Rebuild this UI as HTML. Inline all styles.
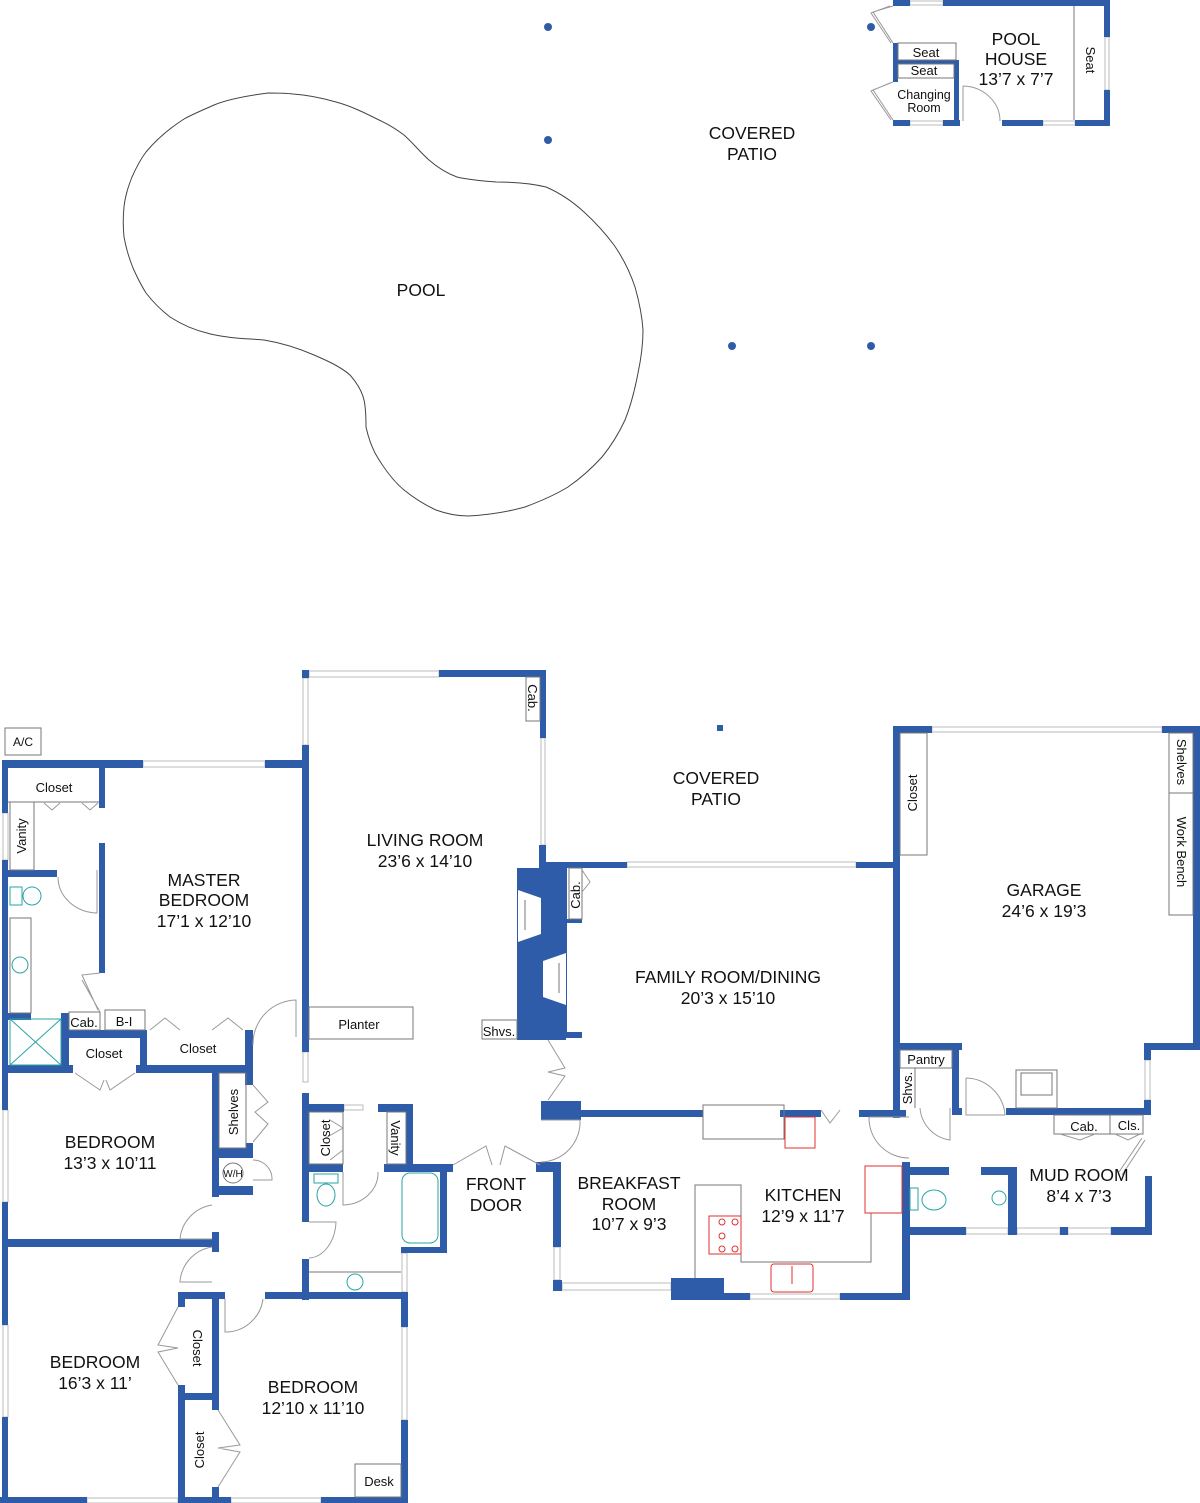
<!DOCTYPE html>
<html><head><meta charset="utf-8"><style>
html,body{margin:0;padding:0;background:#fff;}
svg{display:block;}
.w{fill:#2f5ca8;}
.ln{fill:none;stroke:#777;stroke-width:1;}
.pl{fill:none;stroke:#444;stroke-width:1;stroke-linejoin:round;}
.wn{fill:#fff;stroke:#bbb;stroke-width:1;}
.dr{fill:none;stroke:#999;stroke-width:1;}
.tl{fill:none;stroke:#2aa5a5;stroke-width:1;}
.rd{fill:none;stroke:#e03030;stroke-width:1;}
text{font-family:"Liberation Sans",sans-serif;fill:#111;text-anchor:middle;}
.big{font-size:17.5px;}
.sm{font-size:13px;}
</style></head><body>
<svg width="1200" height="1503" viewBox="0 0 1200 1503" xmlns="http://www.w3.org/2000/svg">
<g class="w"><circle cx="548" cy="27" r="4"/><circle cx="548" cy="140" r="4"/><circle cx="871" cy="27" r="4"/><circle cx="732" cy="346" r="4"/><circle cx="871" cy="346" r="4"/><rect x="717" y="725" width="6" height="6"/></g>

<path class="pl" d="M268,93 C245,96 226,100 214,105 C203,110 193,114 184,119 C170,128 156,140 146,152 C140,160 136,168 132,177 C128,187 125,197 124,207 C123,217 123,227 124,237 C126,248 129,258 133,268 C137,277 141,285 146,293 C153,302 161,310 170,317 C181,324 194,330 207,333 C217,336 227,337 236,338 C245,339 255,339 264,340 C282,343 298,348 314,355 C328,361 341,367 350,375 C357,383 362,391 364,400 C366,409 366,418 366,427 C368,436 371,445 375,453 C383,467 392,480 404,490 C414,498 425,505 436,510 C447,514 457,516 468,516 C488,515 507,512 525,507 C541,501 555,495 568,487 C581,478 592,468 602,457 C611,446 619,433 625,420 C631,405 635,389 638,373 C641,359 643,344 643,330 C642,315 639,301 635,287 C630,272 623,258 614,245 C605,233 595,222 584,212 C572,201 560,193 546,187 C530,183 513,182 496,182 C483,181 469,180 457,177 C446,173 437,167 429,160 C420,152 413,143 404,135 C396,129 388,124 379,120 C365,113 351,106 336,102 C322,98 308,95 293,94 C285,93 276,93 268,93 Z"/>
<text class="big" x="421" y="296">POOL</text>
<text class="big" x="752" y="139">COVERED</text><text class="big" x="752" y="160">PATIO</text>

<rect class="wn" x="910" y="1" width="33" height="4"/><rect class="wn" x="910" y="121" width="33" height="4"/><rect class="wn" x="1043" y="121" width="32" height="4"/><rect class="wn" x="1105" y="37" width="4" height="53"/>
<g class="w">
<rect x="893" y="0" width="17" height="6"/><rect x="943" y="0" width="167" height="6"/>
<rect x="1104" y="0" width="6" height="37"/><rect x="1104" y="90" width="6" height="36"/>
<rect x="893" y="120" width="17" height="6"/><rect x="943" y="120" width="17" height="6"/><rect x="1002" y="120" width="41" height="6"/><rect x="1075" y="120" width="35" height="6"/>
<rect x="893" y="43" width="5" height="39"/><rect x="954" y="60" width="5" height="66"/><rect x="893" y="60" width="66" height="4"/>
</g>
<rect class="ln" x="898" y="43" width="58" height="17"/><rect class="ln" x="898" y="64" width="56" height="14"/>
<line class="ln" x1="1074" y1="6" x2="1074" y2="120"/>
<path class="dr" d="M893,6 L873,12 L893,43 M890,6 L871,13 L891,43 M893,82 L873,90 L893,120 M890,83 L871,91 L891,120 M963,86 L963,121 M963,86 A38,35 0 0 1 1000,121"/>
<text class="big" x="1016" y="45">POOL</text><text class="big" x="1016" y="65">HOUSE</text><text class="big" x="1016" y="85">13’7 x 7’7</text>
<text class="sm" x="926" y="57">Seat</text><text class="sm" x="924" y="75">Seat</text>
<text style="font-size:12.5px" x="924" y="99">Changing</text><text style="font-size:12.5px" x="924" y="112">Room</text>
<text class="sm" transform="translate(1086,60) rotate(90)">Seat</text>

<rect class="ln" x="5" y="728" width="36" height="27"/><text style="font-size:12px" x="23" y="746">A/C</text>

<g>
<rect class="wn" x="309" y="671" width="130" height="6"/>
<rect class="wn" x="541" y="738" width="4" height="107"/>
<rect class="wn" x="143" y="761" width="122" height="6"/>
<rect class="wn" x="303" y="678" width="5" height="67"/>
<rect class="wn" x="3" y="813" width="5" height="47"/>
<rect class="wn" x="3" y="1110" width="5" height="92"/>
<rect class="wn" x="3" y="1325" width="5" height="92"/>
<rect class="wn" x="87" y="1498" width="91" height="5"/>
<rect class="wn" x="231" y="1498" width="90" height="5"/>
<rect class="wn" x="402" y="1327" width="5" height="93"/>
<rect class="wn" x="402" y="1253" width="5" height="39"/>
<rect class="wn" x="627" y="862" width="229" height="5"/>
<rect class="wn" x="932" y="727" width="230" height="5"/>
<rect class="wn" x="1145" y="1060" width="5" height="40"/>
<rect class="wn" x="554" y="1247" width="6" height="33"/>
<rect class="wn" x="562" y="1283" width="109" height="7"/>
<rect class="wn" x="750" y="1294" width="90" height="5"/>
<rect class="wn" x="966" y="1228" width="42" height="6"/>
<rect class="wn" x="1017" y="1228" width="43" height="6"/>
<rect class="wn" x="1068" y="1228" width="43" height="6"/>
<rect class="wn" x="344" y="1105" width="19" height="5"/>
<rect class="wn" x="303" y="1052" width="5" height="30"/>
</g>

<g class="w">
<rect x="302" y="670" width="7" height="8"/><rect x="439" y="670" width="107" height="7"/>
<rect x="540" y="670" width="6" height="68"/><rect x="539" y="845" width="7" height="23"/>
<rect x="302" y="745" width="7" height="307"/><rect x="302" y="1093" width="7" height="129"/><rect x="302" y="1259" width="7" height="41"/>
<rect x="2" y="760" width="141" height="8"/><rect x="265" y="760" width="44" height="8"/>
<rect x="2" y="760" width="6" height="53"/><rect x="2" y="860" width="6" height="250"/><rect x="2" y="1202" width="6" height="123"/><rect x="2" y="1417" width="6" height="86"/>
<rect x="99" y="768" width="6" height="40"/><rect x="99" y="843" width="6" height="130"/>
<rect x="3" y="870" width="54" height="7"/>
<rect x="3" y="1013" width="28" height="7"/>
<rect x="61" y="1013" width="8" height="60"/><rect x="61" y="1030" width="86" height="8"/><rect x="140" y="1030" width="7" height="42"/>
<rect x="3" y="1065" width="70" height="8"/><rect x="136" y="1065" width="117" height="8"/>
<rect x="245" y="1030" width="8" height="55"/>
<rect x="212" y="1065" width="7" height="132"/><rect x="246" y="1143" width="7" height="15"/>
<rect x="212" y="1148" width="41" height="10"/><rect x="212" y="1186" width="41" height="9"/>
<rect x="8" y="1239" width="210" height="8"/><rect x="212" y="1232" width="7" height="20"/>
<rect x="178" y="1292" width="47" height="7"/><rect x="178" y="1292" width="7" height="15"/><rect x="178" y="1385" width="7" height="118"/>
<rect x="178" y="1393" width="40" height="7"/><rect x="212" y="1292" width="7" height="118"/><rect x="212" y="1487" width="7" height="16"/>
<rect x="0" y="1497" width="87" height="6"/><rect x="178" y="1497" width="53" height="6"/><rect x="321" y="1497" width="87" height="6"/>
<rect x="265" y="1292" width="143" height="7"/><rect x="401" y="1292" width="7" height="35"/><rect x="401" y="1420" width="7" height="83"/>
<rect x="309" y="1104" width="35" height="8"/><rect x="378" y="1104" width="35" height="8"/><rect x="406" y="1104" width="7" height="68"/>
<rect x="309" y="1164" width="34" height="8"/><rect x="384" y="1164" width="69" height="8"/><rect x="440" y="1164" width="7" height="89"/><rect x="401" y="1247" width="46" height="6"/>
<path d="M517,868 L567,868 L567,919 L582,919 L582,923 L567,923 L567,1032 L582,1032 L582,1038 L566,1038 L566,1040 L517,1040 Z"/>
<rect x="543" y="862" width="84" height="6"/><rect x="856" y="862" width="44" height="6"/>
<rect x="541" y="1101" width="40" height="19"/><rect x="581" y="1110" width="122" height="7"/><rect x="780" y="1110" width="41" height="7"/><rect x="859" y="1110" width="47" height="7"/>
<rect x="893" y="726" width="39" height="7"/><rect x="1162" y="726" width="38" height="7"/><rect x="1193" y="726" width="7" height="324"/>
<rect x="1144" y="1043" width="56" height="7"/><rect x="1144" y="1043" width="7" height="17"/><rect x="1144" y="1100" width="7" height="15"/>
<rect x="1006" y="1108" width="145" height="7"/>
<rect x="893" y="726" width="7" height="392"/><rect x="893" y="1043" width="69" height="7"/><rect x="952" y="1043" width="7" height="72"/><rect x="952" y="1108" width="10" height="7"/>
<rect x="536" y="1162" width="25" height="10"/><rect x="553" y="1162" width="8" height="85"/><rect x="553" y="1280" width="9" height="11"/>
<rect x="671" y="1278" width="53" height="22"/><rect x="724" y="1293" width="26" height="7"/><rect x="840" y="1293" width="70" height="7"/>
<rect x="902" y="1162" width="8" height="138"/>
<rect x="902" y="1167" width="47" height="8"/><rect x="981" y="1167" width="36" height="8"/><rect x="1008" y="1167" width="9" height="68"/>
<rect x="1145" y="1176" width="7" height="59"/>
<rect x="910" y="1227" width="56" height="8"/><rect x="1008" y="1227" width="9" height="8"/><rect x="1060" y="1227" width="8" height="8"/><rect x="1111" y="1227" width="41" height="8"/>
<rect x="420" y="1165" width="33" height="7"/>
</g>
<path fill="#fff" d="M518,890 L541,898 L541,934 L518,942 Z M566,953 L543,961 L543,997 L566,1005 Z"/>
<path class="ln" d="M525,900 L525,930 M559,963 L559,993" stroke="#bbb"/>

<rect class="ln" x="10" y="802" width="24" height="68"/>
<line class="ln" x1="8" y1="802" x2="99" y2="802"/>
<rect class="ln" x="10" y="918" width="21" height="95"/>
<rect class="tl" x="10" y="1019" width="51" height="46"/><path class="tl" d="M10,1019 L61,1065 M61,1019 L10,1065"/>
<circle class="tl" cx="32" cy="896" r="9"/><rect class="tl" x="10" y="887" width="12" height="18"/>
<circle class="tl" cx="20" cy="965" r="8"/>
<rect class="ln" x="69" y="1012" width="31" height="18"/><rect class="ln" x="105" y="1010" width="40" height="20"/>
<rect class="ln" x="309" y="1007" width="104" height="32"/>
<rect class="ln" x="482" y="1020" width="35" height="19"/>
<rect class="ln" x="526" y="677" width="14" height="44"/>
<rect class="ln" x="569" y="868" width="13" height="51"/>
<rect class="ln" x="219" y="1073" width="27" height="75"/>
<circle class="ln" cx="233" cy="1173" r="10"/>
<rect class="ln" x="309" y="1112" width="34" height="52"/>
<rect class="ln" x="387" y="1112" width="19" height="52"/>
<rect class="tl" x="402" y="1173" width="36" height="70" rx="8"/>
<rect class="tl" x="314" y="1174" width="24" height="9"/><ellipse class="tl" cx="326" cy="1195" rx="9" ry="11"/>
<line class="ln" x1="309" y1="1272" x2="401" y2="1272"/><circle class="tl" cx="355" cy="1282" r="8"/>
<rect class="ln" x="355" y="1464" width="46" height="33"/>
<rect class="ln" x="900" y="733" width="27" height="122"/>
<rect class="ln" x="1169" y="733" width="24" height="182"/><line class="ln" x1="1169" y1="793" x2="1193" y2="793"/>
<rect class="ln" x="900" y="1050" width="52" height="18"/><line class="ln" x1="915" y1="1068" x2="915" y2="1108"/>
<rect class="ln" x="1016" y="1070" width="41" height="38"/><rect class="ln" x="1021" y="1073" width="31" height="22"/>
<rect class="ln" x="1054" y="1115" width="56" height="19"/><rect class="ln" x="1110" y="1115" width="33" height="19"/>
<rect class="ln" x="703" y="1105" width="81" height="34"/>
<path class="ln" d="M695,1278 L695,1185 L741,1185 L741,1262 L871,1262 L871,1213 L902,1213"/>
<rect class="rd" x="785" y="1117" width="30" height="31"/>
<rect class="rd" x="865" y="1166" width="37" height="47"/>
<rect class="rd" x="709" y="1216" width="32" height="38"/>
<g class="rd"><circle cx="722" cy="1222" r="3"/><circle cx="735" cy="1222" r="3"/><circle cx="722" cy="1236" r="3"/><circle cx="722" cy="1249" r="3"/><circle cx="735" cy="1249" r="3"/></g>
<rect class="rd" x="771" y="1264" width="42" height="28" rx="3"/><line class="rd" x1="792" y1="1266" x2="792" y2="1284"/>
<rect class="tl" x="910" y="1188" width="8" height="22"/><ellipse class="tl" cx="934" cy="1200" rx="12" ry="10"/>
<circle class="tl" cx="999" cy="1198" r="7"/>

<path class="dr" d="M58,877 A40,36 0 0 0 97,913 L97,870
M100,973 L82,975 L98,1010 M82,980 L100,1012
M253,1045 A44,44 0 0 1 296,1000 L296,1037
M44,803 L52,810 L60,803 M82,803 L90,810 L98,803
M150,1030 L165,1018 L180,1030 M212,1030 L228,1018 L243,1030
M75,1073 L100,1090 L104,1080 M135,1073 L110,1090 L106,1080
M253,1085 L268,1102 L255,1112 L268,1124 L253,1142
M253,1160 A19,19 0 0 1 272,1180 L253,1180
M212,1205 A38,38 0 0 0 180,1239 L212,1239
M212,1247 A38,38 0 0 0 180,1282 L212,1282
M225,1299 L225,1332 A38,38 0 0 0 263,1299
M178,1307 L158,1345 L178,1348 M178,1348 L158,1352 L178,1385
M218,1410 L240,1445 L218,1448 L240,1452 L218,1487
M309,1222 L336,1222 A28,38 0 0 1 309,1258
M343,1172 L343,1205 A36,32 0 0 0 378,1172
M322,1140 L343,1128 L330,1120 M330,1160 L343,1150
M453,1165 L486,1146 L492,1165 M540,1165 L505,1146 L500,1165
M541,1120 L580,1120 A40,40 0 0 1 541,1162
M548,1040 L565,1068 L548,1072 L565,1076 L548,1100
M821,1110 L830,1123 L840,1110
M869,1117 L909,1117 M869,1117 A40,40 0 0 0 909,1158
M920,1108 A35,35 0 0 0 950,1140 L950,1108
M966,1078 A40,40 0 0 1 1005,1115 L966,1115 L966,1078
M1060,1134 L1080,1140 L1095,1134 M1115,1134 L1128,1140 L1140,1134
M1145,1140 L1122,1175 M1142,1138 L1119,1172
M582,870 L590,882 L582,892"/>

<text class="sm" x="54" y="792">Closet</text>
<text class="sm" transform="translate(26,836) rotate(-90)">Vanity</text>
<text class="big" x="204" y="886">MASTER</text><text class="big" x="204" y="906">BEDROOM</text><text class="big" x="204" y="927">17’1 x 12’10</text>
<text class="big" x="425" y="846">LIVING ROOM</text><text class="big" x="425" y="867">23’6 x 14’10</text>
<text class="sm" transform="translate(528,698) rotate(90)">Cab.</text>
<text class="big" x="716" y="784">COVERED</text><text class="big" x="716" y="805">PATIO</text>
<text class="sm" transform="translate(580,895) rotate(-90)">Cab.</text>
<text class="big" x="728" y="983">FAMILY ROOM/DINING</text><text class="big" x="728" y="1004">20’3 x 15’10</text>
<text class="big" x="1044" y="896">GARAGE</text><text class="big" x="1044" y="917">24’6 x 19’3</text>
<text class="sm" transform="translate(917,793) rotate(-90)">Closet</text>
<text class="sm" transform="translate(1177,762) rotate(90)">Shelves</text>
<text class="sm" transform="translate(1177,852) rotate(90)">Work Bench</text>
<text class="sm" x="359" y="1029">Planter</text>
<text class="sm" x="499" y="1036">Shvs.</text>
<text class="sm" x="84" y="1027">Cab.</text><text class="sm" x="124" y="1026">B-I</text>
<text class="sm" x="104" y="1058">Closet</text><text class="sm" x="198" y="1053">Closet</text>
<text class="sm" transform="translate(238,1112) rotate(-90)">Shelves</text>
<text style="font-size:10px" x="233" y="1177">W/H</text>
<text class="big" x="110" y="1148">BEDROOM</text><text class="big" x="110" y="1169">13’3 x 10’11</text>
<text class="sm" transform="translate(330,1138) rotate(-90)">Closet</text>
<text class="sm" transform="translate(391,1138) rotate(90)">Vanity</text>
<text class="big" x="496" y="1190">FRONT</text><text class="big" x="496" y="1211">DOOR</text>
<text class="big" x="629" y="1189">BREAKFAST</text><text class="big" x="629" y="1210">ROOM</text><text class="big" x="629" y="1230">10’7 x 9’3</text>
<text class="big" x="803" y="1201">KITCHEN</text><text class="big" x="803" y="1222">12’9 x 11’7</text>
<text class="sm" x="926" y="1064">Pantry</text>
<text class="sm" transform="translate(912,1088) rotate(-90)">Shvs.</text>
<text class="sm" x="1084" y="1131">Cab.</text><text class="sm" x="1129" y="1130">Cls.</text>
<text class="big" x="1079" y="1181">MUD ROOM</text><text class="big" x="1079" y="1202">8’4 x 7’3</text>
<text class="big" x="95" y="1368">BEDROOM</text><text class="big" x="95" y="1389">16’3 x 11’</text>
<text class="sm" transform="translate(193,1348) rotate(90)">Closet</text>
<text class="sm" transform="translate(204,1450) rotate(-90)">Closet</text>
<text class="big" x="313" y="1393">BEDROOM</text><text class="big" x="313" y="1414">12’10 x 11’10</text>
<text class="sm" x="379" y="1486">Desk</text>
</svg>
</body></html>
